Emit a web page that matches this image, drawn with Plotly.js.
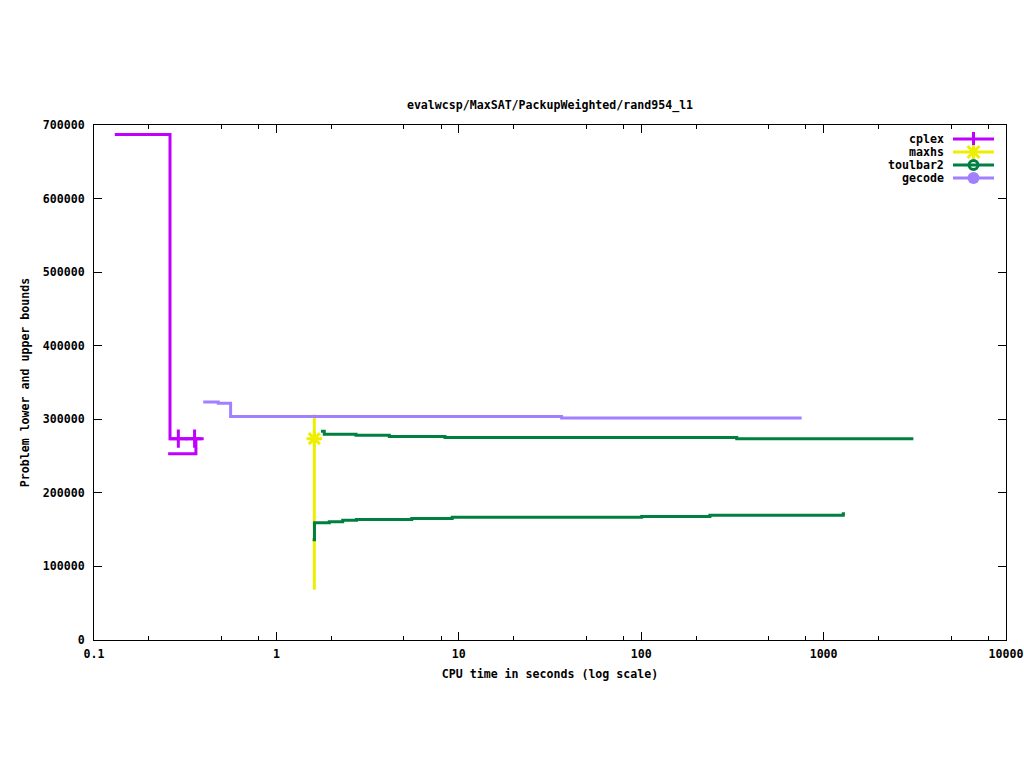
<!DOCTYPE html>
<html>
<head>
<meta charset="utf-8">
<script src="https://cdn.plot.ly/plotly-3.0.1.min.js"></script>
<style>html,body{margin:0;padding:0;background:#fff;}#chart{width:1024px;height:768px;}</style>
</head>
<body>
<div id="chart"></div>
<script>
// ---- data (CPU time in seconds, bound value) ----
const cplexUpperTime  = [0.130, 0.261, 0.389];
const cplexUpperValue = [687000, 273700, 273700];
const cplexLowerTime  = [0.255, 0.362];
const cplexLowerValue = [253300, 273700];
const cplexMarkTime   = [0.290, 0.356];
const cplexMarkValue  = [273700, 273700];

const maxhsTime  = [1.614, 1.614, 1.614];
const maxhsValue = [306400, 273700, 68300];
const maxhsMarkTime  = [1.614];
const maxhsMarkValue = [273700];

const toulbar2UpperTime  = [1.756, 1.83, 2.73, 4.16, 8.4, 334, 3105];
const toulbar2UpperValue = [283700, 279600, 278200, 276500, 275100, 273700, 273700];
const toulbar2LowerTime  = [1.58, 1.617, 1.95, 2.31, 2.75, 5.52, 9.2, 100.6, 238, 1282, 1309];
const toulbar2LowerValue = [136300, 159500, 160800, 162600, 163900, 165300, 166700, 168000, 169400, 171700, 171700];

const gecodeTime  = [0.397, 0.480, 0.561, 36.6, 758];
const gecodeValue = [323500, 321800, 303700, 301800, 301800];

const seriesNames = ["cplex", "maxhs", "toulbar2", "gecode"];

const xTickVals = [0.1, 1, 10, 100, 1000, 10000];
const xTickText = ["0.1", "1", "10", "100", "1000", "10000"];
const yTickVals = [0, 100000, 200000, 300000, 400000, 500000, 600000, 700000];
const yTickText = ["0", "100000", "200000", "300000", "400000", "500000", "600000", "700000"];

// ---- styles ----
const colors = {cplex: "#c000ff", maxhs: "#eeee00", toulbar2: "#008040", gecode: "#a080ff"};
const symbols = {cplex: "cross-thin-open", maxhs: "asterisk-open", toulbar2: "circle-open", gecode: "circle"};
const FONT = {family: "DejaVu Sans Mono, Liberation Mono, monospace", size: 11.6, color: "#000", weight: "bold"};
const LW = 3;

// plot area in pixels
const PL = 94, PR = 1006, PT = 125, PB = 640;
const W = 1024, H = 768;
const px = v => (v - PL) / (PR - PL);
const py = v => (PB - v) / (PB - PT);

const minorVals = [];
[0.1, 1, 10, 100, 1000].forEach(d => [2, 5, 8].forEach(m => minorVals.push(d * m)));

function stepLine(x, y, name, shape) {
  return {x: x, y: y, type: "scatter", mode: "lines", name: name,
          line: {color: colors[name], width: LW, shape: shape || "hv"},
          showlegend: false, hoverinfo: "x+y+name"};
}
function marks(x, y, name) {
  return {x: x, y: y, type: "scatter", mode: "markers", name: name, showlegend: false, hoverinfo: "x+y+name",
          marker: {symbol: symbols[name], size: 13, color: colors[name], line: {color: colors[name], width: 3}}};
}

const traces = [
  stepLine(cplexUpperTime, cplexUpperValue, "cplex"),
  stepLine(cplexLowerTime, cplexLowerValue, "cplex"),
  marks(cplexMarkTime, cplexMarkValue, "cplex"),
  stepLine(maxhsTime, maxhsValue, "maxhs", "linear"),
  marks(maxhsMarkTime, maxhsMarkValue, "maxhs"),
  stepLine(toulbar2UpperTime, toulbar2UpperValue, "toulbar2"),
  stepLine(toulbar2LowerTime, toulbar2LowerValue, "toulbar2"),
  stepLine(gecodeTime, gecodeValue, "gecode"),
];

// ---- gnuplot-style key: text on the left, line sample with point on the right ----
const keyTextRight = 946, keyX0 = 953, keyX1 = 994, keyXm = 973.5, keyTop = 139, keyStep = 13;
const annotations = [];
const shapes = [];
function seg(x0, y0, x1, y1, color, w) {
  shapes.push({type: "line", xref: "paper", yref: "paper", x0: px(x0), y0: py(y0), x1: px(x1), y1: py(y1),
               line: {color: color, width: w || LW}});
}
seriesNames.forEach((name, i) => {
  const y = keyTop + i * keyStep;
  const c = colors[name];
  annotations.push({text: name, xref: "paper", yref: "paper", x: px(keyTextRight), y: py(y),
                    xanchor: "right", yanchor: "middle", showarrow: false, font: FONT});
  seg(keyX0, y, keyX1, y, c);
  if (name === "cplex") {
    seg(keyXm, y - 7, keyXm, y + 7, c);
  } else if (name === "maxhs") {
    seg(keyXm, y - 7, keyXm, y + 7, c);
    seg(keyXm - 6, y - 6, keyXm + 6, y + 6, c);
    seg(keyXm - 6, y + 6, keyXm + 6, y - 6, c);
  } else if (name === "toulbar2") {
    shapes.push({type: "circle", xref: "paper", yref: "paper", x0: px(keyXm - 4.5), x1: px(keyXm + 4.5),
                 y0: py(y - 4.5), y1: py(y + 4.5), line: {color: c, width: 3}, fillcolor: "rgba(0,0,0,0)"});
  } else {
    shapes.push({type: "circle", xref: "paper", yref: "paper", x0: px(keyXm - 6), x1: px(keyXm + 6),
                 y0: py(y - 6), y1: py(y + 6), line: {color: c, width: 0}, fillcolor: c});
  }
});

const layout = {
  width: W, height: H,
  paper_bgcolor: "#fff", plot_bgcolor: "#fff",
  font: FONT,
  margin: {l: PL, r: W - PR, t: PT, b: H - PB, pad: 0},
  title: {text: "evalwcsp/MaxSAT/PackupWeighted/rand954_l1", font: FONT,
          xref: "paper", x: 0.5, xanchor: "center", yref: "container", y: 1 - 105 / 768, yanchor: "middle"},
  showlegend: false,
  annotations: annotations,
  shapes: shapes,
  xaxis: {
    type: "log", range: [-1, 4], autorange: false,
    tickmode: "array", tickvals: xTickVals, ticktext: xTickText,
    ticks: "inside", ticklen: 8, tickwidth: 1, tickcolor: "#000", ticklabelstandoff: 3,
    minor: {tickmode: "array", tickvals: minorVals, ticks: "inside", ticklen: 4, tickwidth: 1, tickcolor: "#000", showgrid: false},
    showline: true, linecolor: "#000", linewidth: 1, mirror: "ticks",
    showgrid: false, zeroline: false, tickfont: FONT,
    title: {text: "CPU time in seconds (log scale)", font: FONT, standoff: 9}
  },
  yaxis: {
    range: [0, 700000], autorange: false,
    tickmode: "array", tickvals: yTickVals, ticktext: yTickText,
    ticks: "inside", ticklen: 8, tickwidth: 1, tickcolor: "#000", ticklabelstandoff: 6,
    showline: true, linecolor: "#000", linewidth: 1, mirror: "ticks",
    showgrid: false, zeroline: false, tickfont: FONT,
    title: {text: "Problem lower and upper bounds", font: FONT, standoff: 10}
  }
};

Plotly.newPlot("chart", traces, layout, {displayModeBar: false, staticPlot: true});
</script>
</body>
</html>
